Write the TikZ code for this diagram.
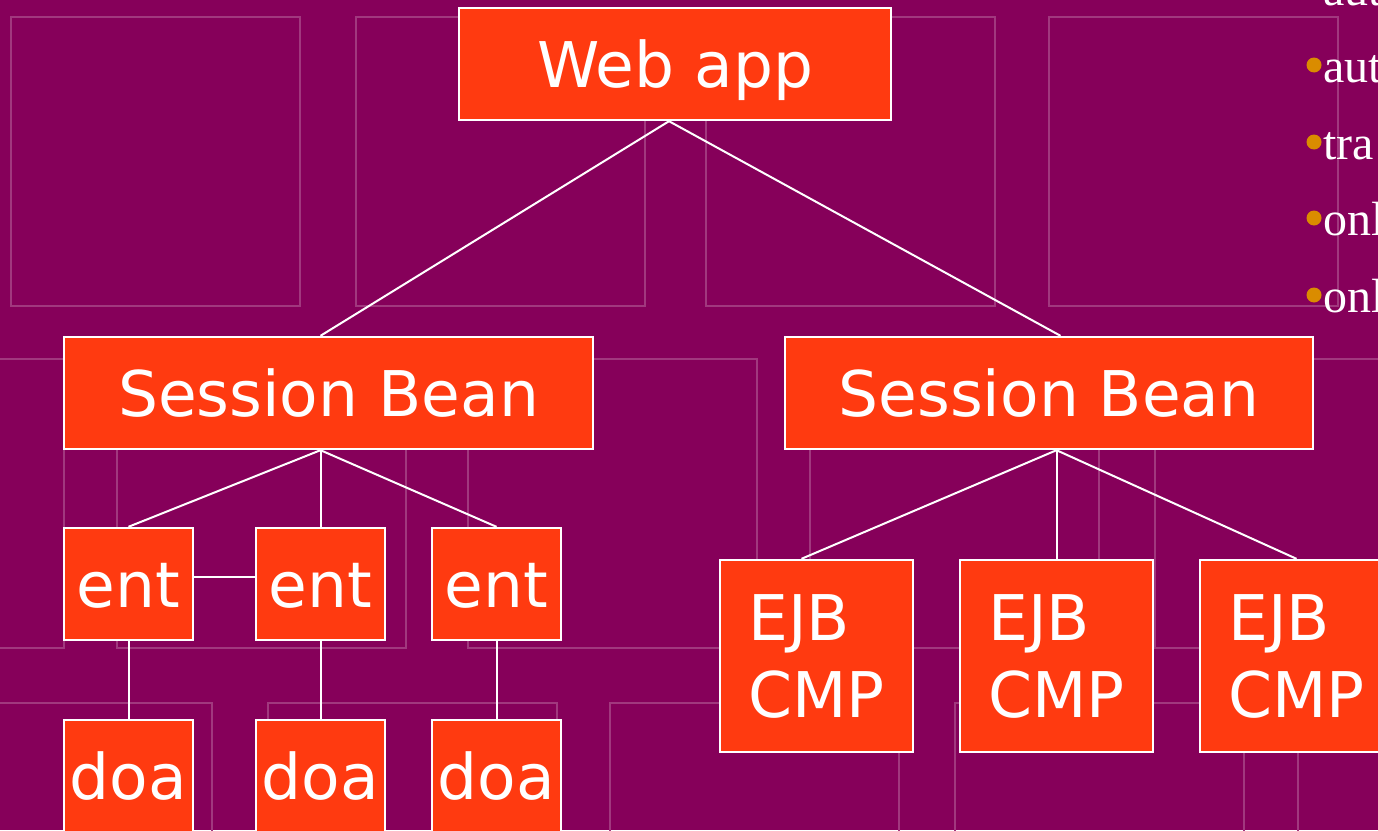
\documentclass[tikz,border=0pt]{standalone}
\usepackage{fontspec}
\setmainfont{DejaVu Sans}
\newfontfamily\listface{Liberation Serif}
\usetikzlibrary{calc,backgrounds}
\definecolor{plum}{RGB}{134,0,90}
\definecolor{boxfill}{RGB}{255,58,16}
\definecolor{bulletorange}{RGB}{218,140,0}
\colorlet{gridline}{plum!78!white}

\begin{document}
\begin{tikzpicture}[x=1pt,y=-1pt,
  orgbox/.style={draw=white, line width=2.4pt, fill=boxfill, text=white,
    inner sep=0pt, font=\fontsize{63}{77}\selectfont},
  oneline/.style={orgbox, text height=46pt, text depth=0pt},
  link/.style={draw=white, line width=2pt},
  tile/.style={draw=gridline, line width=1.6pt},
  listitem/.style={anchor=base west, inner sep=0pt, text=white,
    font=\listface\fontsize{48}{56}\selectfont},
  dot/.style={circle, fill=bulletorange, minimum size=15, inner sep=0pt}]

\useasboundingbox (0,0) rectangle (1378,830);
\clip (0,0) rectangle (1378,830);

\begin{pgfonlayer}{background}
  \fill[plum] (0,0) rectangle (1378,830);
  % faint square tiles of the backdrop
  \foreach \x in {11,356,706,1049} \draw[tile] (\x,17) rectangle ++(289,289);
  \foreach \x in {-225,117,468,810,1155} \draw[tile] (\x,359) rectangle ++(289,289);
  \foreach \x in {-77,268,610,955,1298} \draw[tile] (\x,703) rectangle ++(289,289);
\end{pgfonlayer}

% bullet list running off the right edge
\foreach \y/\word [count=\i from 0] in {5/aut,82/aut,159/tra,235/onl,312/onl}{
  \node[dot] (dot\i) at (1314,\y-17) {};
  \node[listitem] (li\i) at (1323,\y) {\word};
}

% boxes
\node[oneline, minimum width=432, minimum height=112] (web) at (675,64) {Web app};
\node[oneline, minimum width=529, minimum height=112] (sb1) at (328.5,393) {Session Bean};
\node[oneline, minimum width=528, minimum height=112] (sb2) at (1049,393) {Session Bean};

\node[oneline, minimum width=129, minimum height=112] (ent1) at (128.5,584) {ent};
\node[oneline, minimum width=129, minimum height=112] (ent2) at (320.5,584) {ent};
\node[oneline, minimum width=129, minimum height=112] (ent3) at (496.5,584) {ent};

\node[oneline, minimum width=129, minimum height=112] (doa1) at (128.5,776) {doa};
\node[oneline, minimum width=129, minimum height=112] (doa2) at (320.5,776) {doa};
\node[oneline, minimum width=129, minimum height=112] (doa3) at (496.5,776) {doa};

\node[orgbox, align=left, text depth=0pt, minimum width=193, minimum height=192] (ejb1) at (816.5,656) {EJB\\CMP};
\node[orgbox, align=left, text depth=0pt, minimum width=193, minimum height=192] (ejb2) at (1056.5,656) {EJB\\CMP};
\node[orgbox, align=left, text depth=0pt, minimum width=193, minimum height=192] (ejb3) at (1296.5,656) {EJB\\CMP};

% connectors, kept beneath the boxes
\coordinate (apex) at ($(web.south)+(-6,0)$);
\coordinate (hubL) at (sb1.south -| ent2.north);
\coordinate (hubR) at (sb2.south -| ejb2.north);
\begin{pgfonlayer}{background}
  \draw[link] (apex) -- (sb1.north -| ent2.north);
  \draw[link] (apex) -- ($(sb2.north -| ejb2.north)+(4,0)$);
  \draw[link] (hubL) -- (ent1.north);
  \draw[link] (hubL) -- (ent2.north);
  \draw[link] (hubL) -- (ent3.north);
  \draw[link] (hubR) -- ($(ejb1.north)+(-15,0)$);
  \draw[link] (hubR) -- (ejb2.north);
  \draw[link] (hubR) -- (ejb3.north);
  \draw[link] (ent1.south) -- (doa1.north);
  \draw[link] (ent2.south) -- (doa2.north);
  \draw[link] (ent3.south) -- (doa3.north);
  \draw[link] ($(ent1.east)+(0,-7)$) -- ($(ent2.west)+(0,-7)$);
\end{pgfonlayer}
\end{tikzpicture}
\end{document}
